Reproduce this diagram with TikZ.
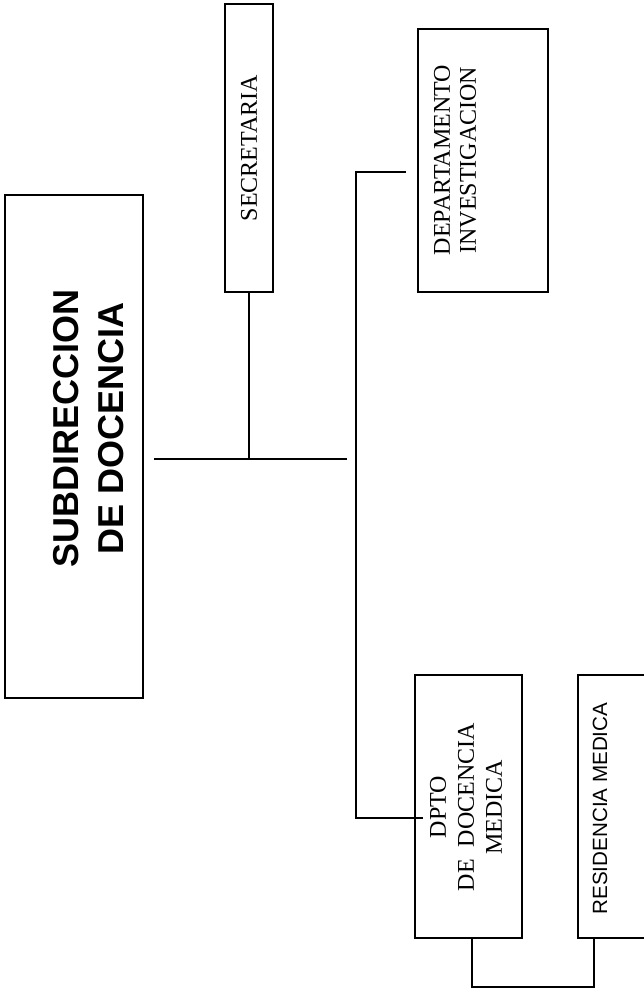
\documentclass[tikz,border=0pt]{standalone}
\usepackage{fontspec}
\setmainfont{Liberation Serif}
\setsansfont{Liberation Sans}
\usetikzlibrary{positioning}
\tikzset{unit/.style={draw,line width=1.8pt,inner sep=0pt},
  txt/.style={rotate=90,align=center,inner sep=0pt},
  serif/.style={txt,font=\fontsize{24}{27}\selectfont},
  line/.style={line width=1.8pt}}

\begin{document}
\begin{tikzpicture}[x=1pt,y=-1pt]
\useasboundingbox (0,0) rectangle (644,994);
\node[unit,minimum width=138pt,minimum height=503pt] (sub) at (74,446.5) {};
\node[unit,minimum width=48pt,minimum height=288pt] (sec) at (249,148) {};
\node[unit,minimum width=130pt,minimum height=263pt] (inv) at (483,160.5) {};
\node[unit,minimum width=107pt,minimum height=263pt] (dpto) at (468.5,806.5) {};
\node[unit,minimum width=107pt,minimum height=263pt,right = 54pt of dpto] (res) {};
\node[txt,font=\sffamily\bfseries\fontsize{36}{45}\selectfont] (subtxt) at (89,428) {SUBDIRECCION\\DE DOCENCIA};
\node[serif] (sectxt) at (sec) {SECRETARIA};
\node[serif,font=\fontsize{24}{26}\selectfont] (invtxt) at (455,160) {DEPARTAMENTO\\INVESTIGACION};
\node[serif,font=\fontsize{24}{28}\selectfont] (dptotxt) at (466,807) {DPTO\\DE\ \ DOCENCIA\\MEDICA};
\node[txt,font=\sffamily\fontsize{20.6}{24}\selectfont] (restxt) at (600,808.5) {RESIDENCIA MEDICA};
\coordinate (hl) at (154,459);
\coordinate (hr) at (347,459);
\coordinate (ttop) at (356,172);
\coordinate (tbot) at (356,818);
\coordinate (ib) at (406,172);
\coordinate (db) at (423,818);
\draw[line] (hl) -- (hr);
\draw[line] (sec.south) -- (sec.south |- hl);
\draw[line] (ib) -- (ttop) -- (tbot) -- (db);
\draw[line] ([xshift=3.5pt]dpto.south) -- ++(0,-48pt) -| ([xshift=17pt]res.south west);
\end{tikzpicture}
\end{document}
